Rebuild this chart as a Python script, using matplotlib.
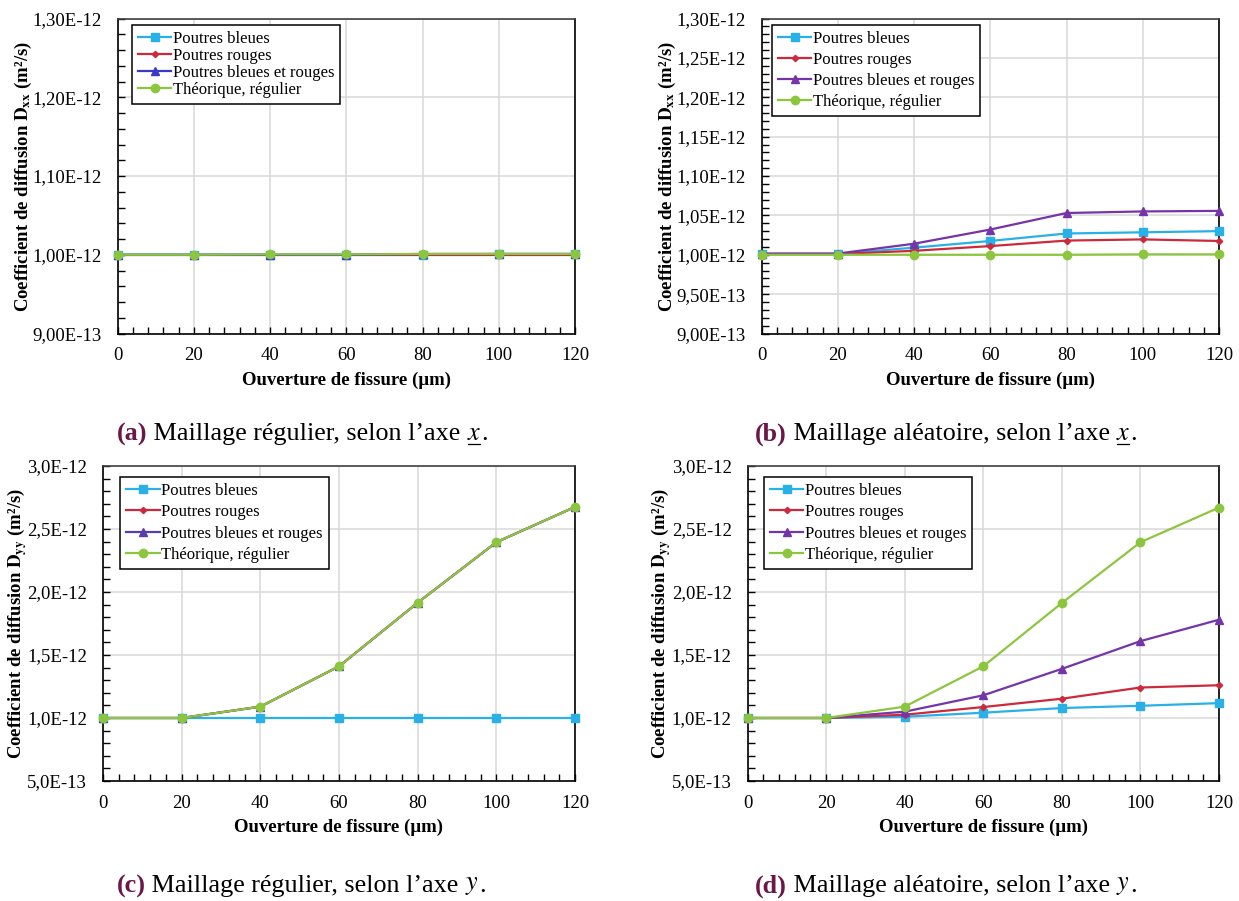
import numpy as np
import matplotlib
matplotlib.use("Agg")
import matplotlib.pyplot as plt
from matplotlib.ticker import MultipleLocator, FuncFormatter
from matplotlib.lines import Line2D

plt.rcParams['font.family'] = ['Liberation Serif', 'DejaVu Serif']
plt.rcParams['mathtext.fontset'] = 'stix'

# Data (values in units of 1e-12 m2/s)
ouverture = [0, 20, 40, 60, 80, 100, 120]
series_names = ["Poutres bleues", "Poutres rouges", "Poutres bleues et rouges", "Théorique, régulier"]

a_bleues = [1.000, 1.000, 1.000, 1.000, 1.000, 1.001, 1.001]
a_rouges = [1.000, 1.000, 1.000, 1.000, 1.000, 1.000, 1.000]
a_br = [1.000, 1.000, 1.000, 1.000, 1.001, 1.001, 1.001]
a_theo = [1.000, 1.000, 1.0005, 1.0005, 1.001, 1.001, 1.001]

b_bleues = [1.001, 1.001, 1.009, 1.0175, 1.027, 1.0285, 1.030]
b_rouges = [1.001, 1.001, 1.005, 1.011, 1.018, 1.0195, 1.0175]
b_br = [1.0015, 1.0015, 1.014, 1.032, 1.053, 1.055, 1.0557]
b_theo = [1.000, 1.000, 1.000, 1.000, 1.000, 1.0005, 1.0005]

c_bleues = [1.0, 1.0, 1.0, 1.0, 1.0, 1.0, 1.0]
c_rouges = [1.0, 1.0, 1.09, 1.41, 1.915, 2.395, 2.675]
c_br = [1.0, 1.0, 1.09, 1.41, 1.915, 2.395, 2.675]
c_theo = [1.0, 1.0, 1.09, 1.41, 1.915, 2.395, 2.675]

d_bleues = [1.0, 1.0, 1.01, 1.042, 1.079, 1.097, 1.118]
d_rouges = [1.0, 1.0, 1.026, 1.087, 1.153, 1.242, 1.26]
d_br = [1.0, 1.0, 1.05, 1.18, 1.39, 1.61, 1.78]
d_theo = [1.0, 1.0, 1.09, 1.41, 1.913, 2.395, 2.67]

BLUE = '#29b0e6'
RED = '#cc2a3c'
GREEN = '#8cc63e'
PURPLE = '#7534a8'

W, H = 1239, 901
fig = plt.figure(figsize=(W / 100, H / 100), dpi=100)


def px_axes(x0, x1, y0, y1):
    return fig.add_axes([x0 / W, 1 - y1 / H, (x1 - x0) / W, (y1 - y0) / H])


def panel(ax, data, br_color, ylim, major, minor, fmt, sub, leg_off, labelspacing):
    styles = [(BLUE, 's', 5.5), (RED, 'D', 3.2), (br_color, '^', 6), (GREEN, 'o', 6)]
    for vals, name, (col, mk, ms) in zip(data, series_names, styles):
        ax.plot(ouverture, np.array(vals) * 1e-12, color=col, marker=mk, ms=ms,
                lw=1.6, label=name, clip_on=False, zorder=3)
    ax.set_xlim(0, 120)
    ax.set_ylim(ylim[0] * 1e-12, ylim[1] * 1e-12)
    ax.xaxis.set_major_locator(MultipleLocator(20))
    ax.xaxis.set_minor_locator(MultipleLocator(4))
    ax.yaxis.set_major_locator(MultipleLocator(major * 1e-12))
    ax.yaxis.set_minor_locator(MultipleLocator(minor * 1e-12))
    ax.yaxis.set_major_formatter(FuncFormatter(lambda v, p: fmt.format(v).replace('.', ',')))
    ax.grid(True, which='major', color='#d9d9d9', lw=1.1, zorder=0)
    ax.tick_params(which='both', direction='in', labelsize=13.5, colors='black')
    ax.tick_params(which='major', length=5, width=1)
    ax.tick_params(which='minor', length=5, width=1)
    ax.tick_params(axis='x', pad=10)
    ax.tick_params(axis='y', pad=11.5)
    for s in ax.spines.values():
        s.set_color('black')
        s.set_linewidth(1.2)
    ax.spines['top'].set_color('#404040')
    ax.set_xlabel("Ouverture de fissure (µm)", fontsize=13.5, fontweight='bold', labelpad=5)
    ax.set_ylabel(r"Coefficient de diffusion $\mathbf{D_{%s}}$ (m²/s)" % sub,
                  fontsize=13.5, fontweight='bold', labelpad=-1)
    bb = ax.get_position()
    wpx, hpx = bb.width * W, bb.height * H
    leg = ax.legend(loc='upper left', bbox_to_anchor=(leg_off[0] / wpx, 1 - leg_off[1] / hpx),
                    borderaxespad=0, fancybox=False, framealpha=1, edgecolor='black',
                    fontsize=12, handlelength=2.0, handletextpad=0.1,
                    labelspacing=labelspacing, borderpad=0.35)
    leg.get_frame().set_linewidth(1.1)
    leg.set_zorder(5)


ax_a = px_axes(117.5, 575, 18.5, 333.5)
panel(ax_a, [a_bleues, a_rouges, a_br, a_theo], '#3a3ac8', (0.9, 1.3), 0.1, 0.02,
      "{:.2E}", "xx", (14.5, 7), 0.05)

ax_b = px_axes(761.5, 1219, 18.5, 333.5)
panel(ax_b, [b_bleues, b_rouges, b_br, b_theo], PURPLE, (0.9, 1.3), 0.05, 0.01,
      "{:.2E}", "xx", (10.5, 7), 0.3)

ax_c = px_axes(103, 575, 466, 781)
panel(ax_c, [c_bleues, c_rouges, c_br, c_theo], '#5a3cb0', (0.5, 3.0), 0.5, 0.1,
      "{:.1E}", "yy", (17.5, 11), 0.32)

ax_d = px_axes(747.5, 1219, 466, 781)
panel(ax_d, [d_bleues, d_rouges, d_br, d_theo], PURPLE, (0.5, 3.0), 0.5, 0.1,
      "{:.1E}", "yy", (16.5, 11), 0.32)

# captions
renderer = fig.canvas.get_renderer()


def caption(cx, cy, letter, text, var):
    yy = 1 - cy / H
    fs = 18.8
    parts = [fig.text(0, yy, "(%s)" % letter, fontsize=fs, fontweight='bold',
                      color='#6b1748', va='center', ha='left'),
             fig.text(0, yy, " " + text + " ", fontsize=fs, va='center', ha='left'),
             fig.text(0, yy, "$%s$" % var, fontsize=fs, va='center', ha='left'),
             fig.text(0, yy, ".", fontsize=fs, va='center', ha='left')]
    widths = [p.get_window_extent(renderer).width for p in parts]
    x = cx - sum(widths) / 2
    for p, w in zip(parts, widths):
        p.set_x(x / W)
        x += w
    if var == 'x':
        vb = parts[2].get_window_extent(renderer)
        fig.add_artist(Line2D([vb.x0 / W + 0.001, vb.x1 / W - 0.001],
                              [(vb.y0 + 1) / H, (vb.y0 + 1) / H], color='black', lw=0.9))


caption(302, 434, 'a', "Maillage régulier, selon l’axe", 'x')
caption(946, 434, 'b', "Maillage aléatoire, selon l’axe", 'x')
caption(301, 886, 'c', "Maillage régulier, selon l’axe", 'y')
caption(946, 886, 'd', "Maillage aléatoire, selon l’axe", 'y')

fig.savefig("out.png", dpi=100)
